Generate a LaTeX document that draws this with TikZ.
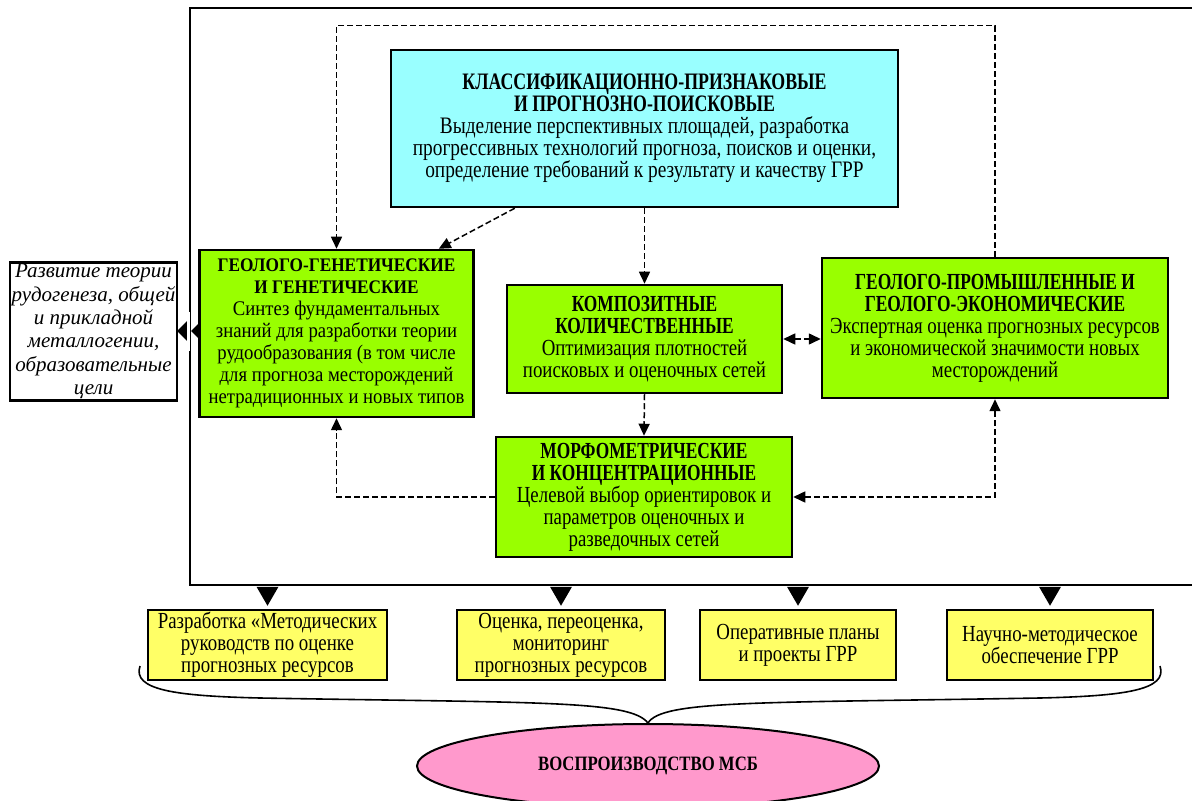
\documentclass[tikz,border=0pt]{standalone}
\usepackage{fontspec}
\setmainfont{Liberation Serif}
\newfontfamily\narrowfont{Liberation Serif}[FakeStretch=0.82]
\newfontfamily\headfont{Liberation Serif}[FakeStretch=0.755]
\newfontfamily\midfont{Liberation Serif}[FakeStretch=0.9]
\newcommand\hd[1]{{\headfont\bfseries #1}}
\usetikzlibrary{arrows.meta, positioning, calc, shapes.geometric}
\definecolor{mCyan}{HTML}{99FFFF}
\definecolor{mGreen}{HTML}{99FF00}
\definecolor{mYellow}{HTML}{FFFF66}
\definecolor{mPink}{HTML}{FF99CC}

\begin{document}
\begin{tikzpicture}[x=0.5pt, y=-0.5pt,
    box/.style={draw, line width=1.25pt, align=center, inner sep=0pt},
    nfont/.style={font=\narrowfont\fontsize{11.5}{11}\selectfont},
    cbox/.style={box, font=\narrowfont\fontsize{11.8}{11}\selectfont, fill=mCyan},
    gbox/.style={box, nfont, fill=mGreen},
    ybox/.style={box, nfont, fill=mYellow, minimum height=35pt},
    dline/.style={dash pattern=on 3pt off 1.5pt, line width=0.75pt},
    arrw/.style={-{Triangle[length=6pt,width=5.5pt]}},
    arrws/.style={{Triangle[length=6pt,width=5.5pt]}-{Triangle[length=6pt,width=5.5pt]}}]
  \useasboundingbox (0,0) rectangle (1192,801);
  % outer frame, open to the right
  \draw[line width=1.1pt] (1200,8) -| (190,585) -- (1200,585);

  % pointer to the left box
  \fill (177,331) -- (190,318) -- (190,344) -- cycle;
  \fill (191,331) -- (204,318) -- (204,344) -- cycle;
  \draw[white, line width=1.2pt] (188.5,312) -- (188.5,351);

  \node[cbox, minimum width=253.5pt, minimum height=78.5pt] (top) at (644.5,128.5)
    {\hd{КЛАССИФИКАЦИОННО-ПРИЗНАКОВЫЕ}\\\hd{И ПРОГНОЗНО-ПОИСКОВЫЕ}\\
     Выделение перспективных площадей, разработка\\
     прогрессивных технологий прогноза, поисков и оценки,\\
     определение требований к результату и качеству ГРР};
  \node[box, fill=mGreen, font=\midfont\fontsize{10.4}{11}\selectfont,
        minimum width=137pt, minimum height=83.5pt] (gen) at (336.5,333.5)
    {{\fontsize{9.6}{11}\selectfont\bfseries ГЕОЛОГО-ГЕНЕТИЧЕСКИЕ}\\
     {\fontsize{9.6}{11}\selectfont\bfseries И ГЕНЕТИЧЕСКИЕ}\\
     Синтез фундаментальных\\знаний для разработки теории\\
     рудообразования (в том числе\\для прогноза месторождений\\
     нетрадиционных и новых типов};
  \node[box, font=\itshape\fontsize{10.5}{11.7}\selectfont,
        minimum width=83.5pt, minimum height=69pt] (dev) at (93.5,331.5)
    {Развитие теории\\рудогенеза, общей\\и прикладной\\металлогении,\\
     образовательные\\цели};
  \node[gbox, minimum width=137.5pt, minimum height=54pt] (comp) at (644.5,339)
    {\hd{КОМПОЗИТНЫЕ}\\\hd{КОЛИЧЕСТВЕННЫЕ}\\
     Оптимизация плотностей\\поисковых и оценочных сетей};
  \node[gbox, minimum width=173pt, minimum height=70pt] (ind) at (995,328)
    {\hd{ГЕОЛОГО-ПРОМЫШЛЕННЫЕ И}\\\hd{ГЕОЛОГО-ЭКОНОМИЧЕСКИЕ}\\
     Экспертная оценка прогнозных ресурсов\\
     и экономической значимости новых\\месторождений};
  \node[gbox, minimum width=148pt, minimum height=60pt] (morph) at (644,497)
    {\hd{МОРФОМЕТРИЧЕСКИЕ}\\\hd{И КОНЦЕНТРАЦИОННЫЕ}\\
     Целевой выбор ориентировок и\\параметров оценочных и\\
     разведочных сетей};

  % dashed links
  \draw[dline, arrw] (ind.north) -- ++(0,-231) -| (gen.north);
  \draw[dline, arrw] ($(top.south west)+(125,0)$) -- ($(gen.north east)+(-36,0)$);
  \draw[dline, arrw] (top.south) -- (comp.north);
  \draw[dline, arrw] (comp.south) -- (morph.north);
  \draw[dline, arrws] (comp.east) -- (comp.east -| ind.west);
  \draw[dline, arrw] (morph.west) -| (gen.south);
  \draw[dline, arrws] (morph.east) -| (ind.south);

  % outputs
  \foreach \nm/\xc/\bw/\txt in {
      y1/267.5/119.5/{Разработка «Методических\\руководств по оценке\\прогнозных ресурсов},
      y2/561/104/{Оценка, переоценка,\\мониторинг\\прогнозных ресурсов},
      y3/798/98/{Оперативные планы\\и проекты ГРР},
      y4/1050/103/{Научно-методическое\\обеспечение ГРР}} {
    \node[ybox, minimum width=\bw pt] (\nm) at (\xc,645) {\txt};
    \fill ($(\nm.north)+(-11,-22)$) -- ($(\nm.north)+(11,-22)$) -- ($(\nm.north)+(0,-3)$) -- cycle;
  }

  \node[draw, line width=1pt, ellipse, fill=mPink, minimum width=231pt, minimum height=42pt,
        inner sep=0pt, font=\narrowfont\bfseries\fontsize{10.2}{11}\selectfont] (msb) at (648,766)
    {ВОСПРОИЗВОДСТВО МСБ};
  % brace
  \draw[line width=0.8pt] (140,666) .. controls (132,690) and (175,696) .. (260,698)
    .. controls (540,703) and (630,700) .. (msb.north);
  \draw[line width=0.8pt] (1160,666) .. controls (1168,690) and (1125,696) .. (1040,698)
    .. controls (760,703) and (662,700) .. (msb.north);
\end{tikzpicture}
\end{document}
